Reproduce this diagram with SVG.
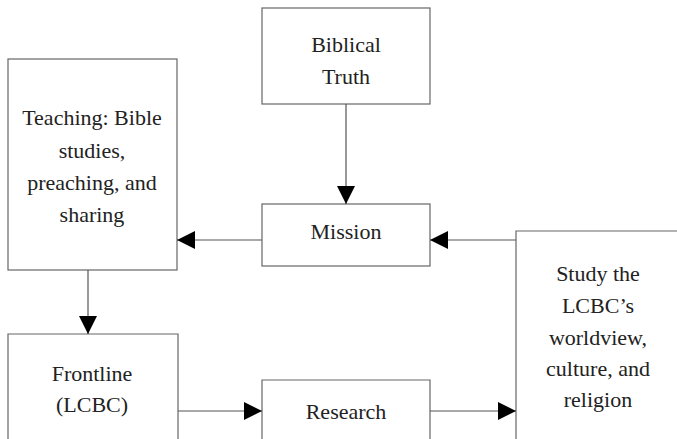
<svg xmlns="http://www.w3.org/2000/svg" width="677" height="439" viewBox="0 0 677 439">
<defs>
<style>
.box{fill:#fff;stroke:#666;stroke-width:1.2}
.t{font-family:"Liberation Serif",serif;font-size:22px;fill:#222;text-anchor:middle}
.c{stroke:#555;stroke-width:1.2;fill:none;marker-end:url(#ah)}
</style>
<marker id="ah" markerUnits="userSpaceOnUse" markerWidth="18" markerHeight="18" refX="18" refY="9" orient="auto">
<path d="M0,0 L18,9 L0,18 Z" fill="#000"/>
</marker>
</defs>
<rect width="677" height="439" fill="#fff"/>
<g id="biblical-truth">
<rect class="box" x="262" y="8" width="168" height="96"/>
<text class="t" x="346" y="52">Biblical</text>
<text class="t" x="346" y="84">Truth</text>
</g>
<g id="teaching">
<rect class="box" x="8" y="59" width="169" height="211"/>
<text class="t" x="92" y="125">Teaching: Bible</text>
<text class="t" x="92" y="158">studies,</text>
<text class="t" x="92" y="190">preaching, and</text>
<text class="t" x="92" y="222">sharing</text>
</g>
<g id="mission">
<rect class="box" x="262" y="204" width="168" height="62"/>
<text class="t" x="346" y="239">Mission</text>
</g>
<g id="study">
<path class="box" d="M680,231 L516,231 L516,442"/>
<text class="t" x="598" y="281">Study the</text>
<text class="t" x="598" y="313">LCBC’s</text>
<text class="t" x="598" y="345">worldview,</text>
<text class="t" x="598" y="376">culture, and</text>
<text class="t" x="598" y="407">religion</text>
</g>
<g id="frontline">
<path class="box" d="M8,442 L8,334 L178,334 L178,442"/>
<text class="t" x="92" y="381">Frontline</text>
<text class="t" x="92" y="412">(LCBC)</text>
</g>
<g id="research">
<path class="box" d="M262,442 L262,380 L430,380 L430,442"/>
<text class="t" x="346" y="419">Research</text>
</g>
<g id="connectors">
<line class="c" x1="346" y1="104" x2="346" y2="204"/>
<line class="c" x1="262" y1="240" x2="177" y2="240"/>
<line class="c" x1="516" y1="240" x2="430" y2="240"/>
<line class="c" x1="88" y1="270" x2="88" y2="334"/>
<line class="c" x1="178" y1="411" x2="262" y2="411"/>
<line class="c" x1="430" y1="411" x2="516" y2="411"/>
</g>
</svg>
